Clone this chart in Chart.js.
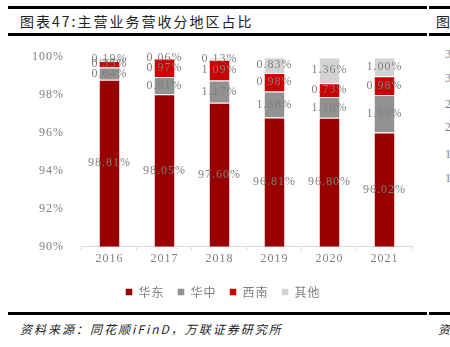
<!DOCTYPE html>
<html>
<head>
<meta charset="utf-8">
<script src="https://cdn.jsdelivr.net/npm/chart.js@4/dist/chart.umd.min.js"></script>
<style>
body{margin:0;width:450px;height:347px;overflow:hidden;background:#fff;position:relative;font-family:"Noto Sans CJK SC",sans-serif}
.ln{position:absolute;height:3px;background:#000}
.t{position:absolute;white-space:nowrap}
.r{font-size:12px;color:#7f7f7f;font-family:'Liberation Serif'}
#box{position:absolute;left:0;top:40px;width:428px;height:272px}
</style>
</head>
<body>
<div class="ln" style="left:8px;top:6px;width:419px"></div>
<div class="ln" style="left:429px;top:6px;width:21px"></div>
<div class="t" style="left:20px;top:11px;font-size:14px;letter-spacing:2px;color:#222">图表47:主营业务营收分地区占比</div>
<div class="t" style="left:436px;top:11px;font-size:14px;color:#222">图</div>
<div class="ln" style="left:8px;top:33px;width:419px"></div>
<div class="ln" style="left:429px;top:33px;width:21px"></div>
<div class="t r" style="left:445px;top:47px">3</div>
<div class="t r" style="left:445px;top:71px">3</div>
<div class="t r" style="left:445px;top:97px">2</div>
<div class="t r" style="left:445px;top:120px">2</div>
<div class="t r" style="left:445px;top:147px">1</div>
<div class="t r" style="left:445px;top:171px">1</div>
<div id="box"><canvas id="cv"></canvas></div>
<div class="ln" style="left:8px;top:312px;width:419px"></div>
<div class="ln" style="left:429px;top:312px;width:21px"></div>
<div class="t" style="left:20px;top:320px;font-size:12px;letter-spacing:2px;font-style:italic;color:#222">资料来源：同花顺iFinD，万联证券研究所</div>
<div class="t" style="left:438px;top:320px;font-size:12px;font-style:italic;color:#222">资</div>
<script>
var years = ['2016','2017','2018','2019','2020','2021'];
var huadong = [98.81, 98.05, 97.60, 96.81, 96.80, 96.02];
var huazhong = [0.64, 0.91, 1.17, 1.38, 1.10, 1.99];
var xinan = [0.35, 0.97, 1.09, 0.98, 0.73, 0.98];
var qita = [0.19, 0.06, 0.13, 0.83, 1.36, 1.00];
var yTicks = [90, 92, 94, 96, 98, 100];

// spaced-out text like the original
var spacing = {
	id: 'spacing',
	beforeDraw: function(chart){ chart.ctx.letterSpacing = '1px'; }
};

// labels in the middle of each segment
var segLabels = {
	id: 'segLabels',
	afterDatasetsDraw: function(chart){
		var ctx = chart.ctx;
		var area = chart.chartArea;
		ctx.save();
		ctx.letterSpacing = '1px';
		ctx.font = '12px "Liberation Serif"';
		ctx.fillStyle = '#7f7f7f';
		ctx.textAlign = 'center';
		ctx.textBaseline = 'middle';
		chart.data.datasets.forEach(function(ds, i){
			var meta = chart.getDatasetMeta(i);
			meta.data.forEach(function(bar, j){
				var top = Math.max(bar.y, area.top);
				var bot = Math.min(bar.base, area.bottom);
				ctx.fillText(ds.data[j].toFixed(2) + '%', bar.x, (top + bot) / 2);
			});
		});
		ctx.restore();
	}
};

function mk(label, data, color){
	return {
		label: label,
		data: data,
		backgroundColor: color,
		borderColor: 'rgba(255,255,255,0.5)',
		borderWidth: 1,
		categoryPercentage: 1,
		barPercentage: 0.39
	};
}

new Chart(document.getElementById('cv'), {
	type: 'bar',
	data: {
		labels: years,
		datasets: [
			mk('华东', huadong, '#990000'),
			mk('华中', huazhong, '#929292'),
			mk('西南', xinan, '#cc0000'),
			mk('其他', qita, '#d3d3d3')
		]
	},
	options: {
		responsive: true,
		maintainAspectRatio: false,
		animation: false,
		layout: {padding: {left: 26, right: 16, top: 12, bottom: 4}},
		plugins: {
			tooltip: {enabled: false},
			legend: {
				position: 'bottom',
				labels: {
					boxWidth: 7, boxHeight: 7, padding: 13,
					color: '#7f7f7f',
					font: {family: '"Noto Sans CJK SC"', size: 12}
				}
			}
		},
		scales: {
			x: {
				stacked: true,
				afterFit: function(sc){ sc.height += 6; },
				grid: {display: true, drawOnChartArea: false, tickLength: 4, color: '#d9d9d9'},
				border: {color: '#d9d9d9'},
				ticks: {color: '#7f7f7f', font: {family: '"Liberation Serif"', size: 12}, padding: 1}
			},
			y: {
				stacked: true,
				min: 90, max: 100,
				afterBuildTicks: function(ax){ ax.ticks = yTicks.map(function(v){ return {value: v}; }); },
				grid: {display: false},
				border: {display: false},
				ticks: {
					color: '#7f7f7f', padding: 10,
					font: {family: '"Liberation Serif"', size: 12},
					callback: function(v){ return v + '%'; }
				}
			}
		}
	},
	plugins: [spacing, segLabels]
});
</script>
</body>
</html>
